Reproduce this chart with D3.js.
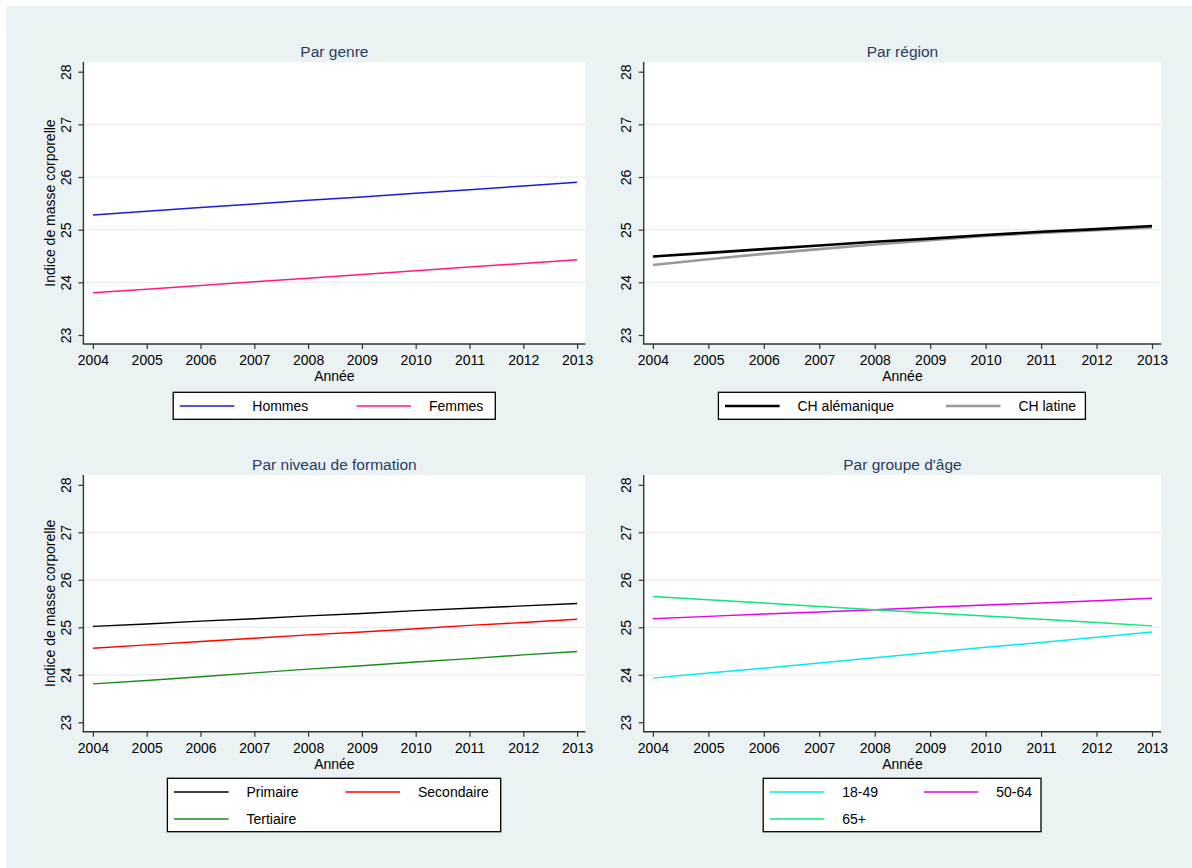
<!DOCTYPE html>
<html><head><meta charset="utf-8">
<script src="https://cdn.jsdelivr.net/npm/d3@7/dist/d3.min.js"></script>
<style>
body{margin:0;background:#fff}
svg{display:block}
text{font-family:"Liberation Sans",Arial,Helvetica,sans-serif}
</style>
</head><body>
<svg id="chart" width="1192" height="868"></svg>
<script>
// ---------- data ----------
const years = [2004, 2005, 2006, 2007, 2008, 2009, 2010, 2011, 2012, 2013];
const yTicks = [23, 24, 25, 26, 27, 28];
const gridTicks = [24, 25, 26, 27];

const hommes     = [25.28, 25.35, 25.42, 25.49, 25.56, 25.62, 25.69, 25.76, 25.83, 25.90];
const femmes     = [23.80, 23.87, 23.94, 24.01, 24.08, 24.15, 24.22, 24.29, 24.36, 24.43];

const chAlem     = [24.49, 24.56, 24.63, 24.70, 24.77, 24.83, 24.90, 24.96, 25.01, 25.07];
const chLatine   = [24.33, 24.44, 24.54, 24.63, 24.72, 24.80, 24.88, 24.94, 24.99, 25.04];

const primaire   = [25.02, 25.07, 25.13, 25.18, 25.24, 25.29, 25.35, 25.40, 25.45, 25.50];
const secondaire = [24.56, 24.63, 24.70, 24.77, 24.84, 24.90, 24.97, 25.04, 25.10, 25.17];
const tertiaire  = [23.81, 23.88, 23.96, 24.04, 24.12, 24.19, 24.27, 24.34, 24.42, 24.49];

const age1849    = [23.93, 24.04, 24.14, 24.25, 24.36, 24.47, 24.58, 24.68, 24.79, 24.90];
const age5064    = [25.18, 25.23, 25.28, 25.32, 25.37, 25.42, 25.47, 25.51, 25.56, 25.61];
const age65      = [25.65, 25.58, 25.51, 25.44, 25.37, 25.30, 25.24, 25.17, 25.10, 25.03];

const titles = ["Par genre", "Par région", "Par niveau de formation", "Par groupe d'âge"];
const yTitle = "Indice de masse corporelle";
const xTitle = "Année";

// ---------- layout / style ----------
const cols = [
  {x0: 83.4, x1: 585.4, xa: 92.9, xb: 577.1},
  {x0: 643.7, x1: 1161.2, xa: 652.9, xb: 1152.0}
];
const rows = [
  {y0: 62, y1: 344, y23: 335, y28: 71.7, titleY: 51.7, legTop: 392.3},
  {y0: 475, y1: 731.7, y23: 722.3, y28: 484.8, titleY: 465, legTop: 778.3}
];

const panels = [
  {title: titles[0], col: 0, row: 0, showYTitle: true,
   legend: {left: 173.2, width: 322.1, col2: 183.2},
   series: [
     {name: "Hommes", values: hommes, color: "#1a1ae0", width: 1.5},
     {name: "Femmes", values: femmes, color: "#ff1a80", width: 1.5}
   ]},
  {title: titles[1], col: 1, row: 0, showYTitle: false,
   legend: {left: 718.4, width: 367.0, col2: 227.5},
   series: [
     {name: "CH latine", values: chLatine, color: "#999999", width: 2.6, legendIndex: 1},
     {name: "CH alémanique", values: chAlem, color: "#000000", width: 2.6, legendIndex: 0}
   ]},
  {title: titles[2], col: 0, row: 1, showYTitle: true,
   legend: {left: 167.4, width: 333.3, col2: 178.1},
   series: [
     {name: "Primaire", values: primaire, color: "#000000", width: 1.4},
     {name: "Secondaire", values: secondaire, color: "#ff0000", width: 1.4},
     {name: "Tertiaire", values: tertiaire, color: "#1a8a1a", width: 1.4}
   ]},
  {title: titles[3], col: 1, row: 1, showYTitle: false,
   legend: {left: 763.2, width: 277.8, col2: 160.5},
   series: [
     {name: "18-49", values: age1849, color: "#00ecf0", width: 1.5},
     {name: "50-64", values: age5064, color: "#e800e8", width: 1.5},
     {name: "65+", values: age65, color: "#10e67a", width: 1.5}
   ]}
];

const svg = d3.select("#chart");
svg.append("rect").attr("x", 6).attr("y", 6).attr("width", 1186).attr("height", 862)
   .attr("fill", "#eaf2f3");

const titleColor = "#2a3a62";
const axisColor = "#333333";

panels.forEach(p => {
  const c = cols[p.col], r = rows[p.row];
  const x = d3.scaleLinear().domain([2004, 2013]).range([c.xa, c.xb]);
  const y = d3.scaleLinear().domain([23, 28]).range([r.y23, r.y28]);
  const g = svg.append("g");

  // plot region
  g.append("rect").attr("x", c.x0).attr("y", r.y0)
    .attr("width", c.x1 - c.x0).attr("height", r.y1 - r.y0).attr("fill", "#ffffff");

  // grid
  g.selectAll(".grid").data(gridTicks).join("line")
    .attr("x1", c.x0).attr("x2", c.x1)
    .attr("y1", d => y(d)).attr("y2", d => y(d))
    .attr("stroke", "#e6eef0").attr("stroke-width", 1.2);

  // title
  g.append("text").attr("x", (c.x0 + c.x1) / 2).attr("y", r.titleY)
    .attr("dy", "0.35em").attr("text-anchor", "middle")
    .attr("font-size", "15.5px").attr("fill", titleColor).text(p.title);

  // series
  const line = d3.line().x((d, i) => x(years[i])).y(d => y(d));
  p.series.forEach(s => {
    g.append("path").datum(s.values).attr("d", line)
      .attr("fill", "none").attr("stroke", s.color).attr("stroke-width", s.width);
  });

  // y axis
  const yAxis = d3.axisLeft(y).tickValues(yTicks).tickFormat(d3.format("d")).tickSize(5).tickSizeOuter(0);
  const ya = g.append("g").attr("transform", `translate(${c.x0},0)`).call(yAxis);
  ya.select(".domain").remove();
  ya.selectAll(".tick line").attr("stroke", axisColor).attr("stroke-width", 1.2);
  ya.selectAll(".tick text")
    .attr("x", null).attr("dy", null)
    .attr("transform", "translate(-17.5,0) rotate(-90)")
    .attr("text-anchor", "middle").attr("dy", "0.35em")
    .attr("font-size", "14px").attr("fill", "#000")
    .attr("font-family", '"Liberation Sans",Arial,sans-serif');

  // x axis
  const xAxis = d3.axisBottom(x).tickValues(years).tickFormat(d3.format("d")).tickSize(5).tickSizeOuter(0);
  const xa = g.append("g").attr("transform", `translate(0,${r.y1})`).call(xAxis);
  xa.select(".domain").remove();
  xa.selectAll(".tick line").attr("stroke", axisColor).attr("stroke-width", 1.2);
  xa.selectAll(".tick text").attr("y", 16.5).attr("dy", "0.35em")
    .attr("font-size", "14px").attr("fill", "#000")
    .attr("font-family", '"Liberation Sans",Arial,sans-serif');

  // axis lines
  g.append("line").attr("x1", c.x0).attr("x2", c.x0).attr("y1", r.y0).attr("y2", r.y1)
    .attr("stroke", axisColor).attr("stroke-width", 1.4);
  g.append("line").attr("x1", c.x0 - 0.7).attr("x2", c.x1).attr("y1", r.y1).attr("y2", r.y1)
    .attr("stroke", axisColor).attr("stroke-width", 1.4);

  // axis titles
  g.append("text").attr("x", (c.x0 + c.x1) / 2).attr("y", r.y1 + 32)
    .attr("dy", "0.35em").attr("text-anchor", "middle")
    .attr("font-size", "14px").attr("fill", "#000").text(xTitle);
  if (p.showYTitle) {
    g.append("text")
      .attr("transform", `translate(${c.x0 - 33.4},${(r.y0 + r.y1) / 2}) rotate(-90)`)
      .attr("dy", "0.35em").attr("text-anchor", "middle")
      .attr("font-size", "14px").attr("fill", "#000").text(yTitle);
  }

  // legend
  const L = p.legend;
  const items = p.series.map((s, i) => ({s, idx: s.legendIndex !== undefined ? s.legendIndex : i}))
                        .sort((a, b) => a.idx - b.idx);
  const nRows = Math.ceil(items.length / 2);
  const rowH = 27;
  const lg = g.append("g");
  lg.append("rect").attr("x", L.left).attr("y", r.legTop)
    .attr("width", L.width).attr("height", nRows * rowH + (nRows > 1 ? -0.6 : 0))
    .attr("fill", "#ffffff").attr("stroke", "#000").attr("stroke-width", 1.3);
  items.forEach((it, k) => {
    const colIdx = k % 2, rowIdx = Math.floor(k / 2);
    const lx = L.left + (colIdx === 1 ? L.col2 : 6.6);
    const cy = r.legTop + 13.7 + rowIdx * rowH;
    lg.append("line").attr("x1", lx).attr("x2", lx + 54.6)
      .attr("y1", cy).attr("y2", cy)
      .attr("stroke", it.s.color).attr("stroke-width", it.s.width);
    lg.append("text").attr("x", lx + 72.5).attr("y", cy).attr("dy", "0.35em")
      .attr("font-size", "14px").attr("fill", "#000").text(it.s.name);
  });
});
</script>
</body></html>
